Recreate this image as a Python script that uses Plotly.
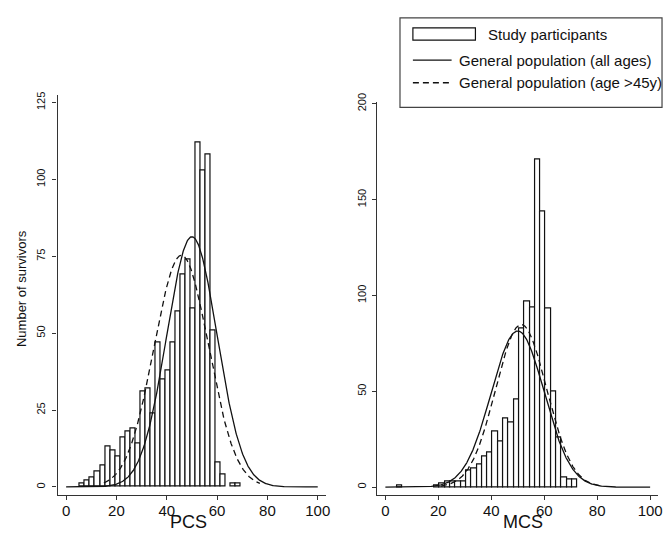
import numpy as np
import plotly.graph_objects as go

# ---------------- data ----------------
BIN_W = 2.0

pcs_bin_mid = [6.5, 8.5, 10.5, 12.5, 14.5, 16.5, 18.5, 20.5, 22.5, 24.5, 26.5,
               28.5, 30.5, 32.5, 34.5, 36.5, 38.5, 40.5, 42.5, 44.5, 46.5, 48.5,
               50.5, 52.5, 54.5, 56.5, 58.5, 60.5, 62.5, 64.5, 66.5, 68.5]
pcs_counts = [1, 2, 3, 5, 7, 13, 12, 10, 16, 18, 19, 14, 31, 32, 24, 47, 35, 38,
              47, 57, 69, 74, 58, 112, 103, 108, 51, 8, 4, 0, 1, 1]

mcs_bin_mid = [5.5, 7.5, 9.5, 11.5, 13.5, 15.5, 17.5, 19.5, 21.5, 23.5, 25.5,
               27.5, 29.5, 31.5, 33.5, 35.5, 37.5, 39.5, 41.5, 43.5, 45.5, 47.5,
               49.5, 51.5, 53.5, 55.5, 57.5, 59.5, 61.5, 63.5, 65.5, 67.5, 69.5, 71.5]
mcs_counts = [1, 0, 0, 0, 0, 0, 0, 1, 2, 3, 3, 3, 3, 9, 10, 12, 16, 18, 29, 24,
              36, 34, 46, 83, 97, 94, 171, 144, 93, 50, 26, 5, 4, 4]

# reference normal curves: (mean, sd, x-range)
pcs_all_ages = (50.0, 10.0, (0, 100))
pcs_age45 = (45.8, 10.8, (15, 77))
mcs_all_ages = (50.0, 10.0, (0, 100))
mcs_age45 = (51.3, 9.6, (21, 81))

x_ticks = [0, 20, 40, 60, 80, 100]
pcs_y_ticks = [0, 25, 50, 75, 100, 125]
mcs_y_ticks = [0, 50, 100, 150, 200]

legend_labels = ["Study participants", "General population (all ages)",
                 "General population (age >45y)"]

# ---------------- figure ----------------
W, H = 670, 533
FONT = "Liberation Sans, Arial, sans-serif"
INK = "#111111"


def pxx(p):
    return p / W


def pxy(p):
    return 1 - p / H


def normal_curve(n, mean, sd, lo, hi):
    xs = np.linspace(lo, hi, 601)
    ys = n * BIN_W / (sd * np.sqrt(2 * np.pi)) * np.exp(-0.5 * ((xs - mean) / sd) ** 2)
    return xs, ys


fig = go.Figure()

panels = [
    (pcs_bin_mid, pcs_counts, pcs_all_ages, pcs_age45, "x", "y"),
    (mcs_bin_mid, mcs_counts, mcs_all_ages, mcs_age45, "x2", "y2"),
]

for mids, counts, solid, dashed, xa, ya in panels:
    keep = [(m, c) for m, c in zip(mids, counts) if c > 0]
    fig.add_trace(go.Bar(
        x=[m for m, _ in keep], y=[c for _, c in keep], width=BIN_W,
        marker=dict(color="white", line=dict(color="#111111", width=1.2)),
        xaxis=xa, yaxis=ya, showlegend=False, hoverinfo="x+y"))
    n = sum(counts)
    xs, ys = normal_curve(n, solid[0], solid[1], *solid[2])
    fig.add_trace(go.Scatter(x=xs, y=ys, mode="lines",
                             line=dict(color="#111111", width=1.3),
                             xaxis=xa, yaxis=ya, showlegend=False))
    xs, ys = normal_curve(n, dashed[0], dashed[1], *dashed[2])
    fig.add_trace(go.Scatter(x=xs, y=ys, mode="lines",
                             line=dict(color="#111111", width=1.3, dash="6px,4px"),
                             xaxis=xa, yaxis=ya, showlegend=False))

axis_common = dict(showline=True, linecolor="#333333", linewidth=1.3,
                   ticks="outside", ticklen=4, tickwidth=1.2, tickcolor="#333333",
                   showgrid=False, zeroline=False, fixedrange=True)

fig.update_layout(
    width=W, height=H,
    margin=dict(l=0, r=0, t=0, b=0),
    paper_bgcolor="white", plot_bgcolor="white",
    bargap=0,
    font=dict(family=FONT, color=INK),
    showlegend=False,
    xaxis=dict(domain=[pxx(58), pxx(328)], range=[-3.4, 103.1], anchor="y",
               tickvals=x_ticks, ticklabelstandoff=-2,
               tickfont=dict(size=15, family=FONT, color=INK), **axis_common),
    yaxis=dict(domain=[pxy(494), pxy(87)], range=[-2.5, 127.6], anchor="x",
               tickvals=pcs_y_ticks, tickangle=-90, ticklabelstandoff=3,
               tickfont=dict(size=11, family=FONT, color=INK), **axis_common),
    xaxis2=dict(domain=[pxx(380), pxx(663.3)], range=[-3.1, 103.1], anchor="y2",
                tickvals=x_ticks, ticklabelstandoff=-2,
                tickfont=dict(size=15, family=FONT, color=INK), **axis_common),
    yaxis2=dict(domain=[pxy(494), pxy(95)], range=[-3.9, 200.7], anchor="x2",
                tickvals=mcs_y_ticks, tickangle=-90, ticklabelstandoff=2,
                tickfont=dict(size=11, family=FONT, color=INK), **axis_common),
)

annotations = [
    dict(text="PCS", x=pxx(190), y=pxy(533), xref="paper", yref="paper",
         showarrow=False, xanchor="center", yanchor="bottom", borderpad=0,
         font=dict(size=18, family=FONT, color=INK)),
    dict(text="MCS", x=pxx(527), y=pxy(533), xref="paper", yref="paper",
         showarrow=False, xanchor="center", yanchor="bottom", borderpad=0,
         font=dict(size=18, family=FONT, color=INK)),
    dict(text="Number of survivors", x=pxx(21), y=pxy(284), xref="paper", yref="paper",
         showarrow=False, xanchor="center", yanchor="middle", textangle=-90,
         font=dict(size=13, family=FONT, color=INK)),
    dict(text=legend_labels[0], x=pxx(490), y=pxy(25.5), xref="paper", yref="paper",
         showarrow=False, xanchor="left", yanchor="middle",
         font=dict(size=15, family=FONT, color=INK)),
    dict(text=legend_labels[1], x=pxx(460), y=pxy(52), xref="paper", yref="paper",
         showarrow=False, xanchor="left", yanchor="middle",
         font=dict(size=15, family=FONT, color=INK)),
    dict(text=legend_labels[2], x=pxx(460), y=pxy(75), xref="paper", yref="paper",
         showarrow=False, xanchor="left", yanchor="middle",
         font=dict(size=15, family=FONT, color=INK)),
]

shapes = [
    # legend frame
    dict(type="rect", xref="paper", yref="paper", x0=pxx(403), x1=pxx(667),
         y0=pxy(100), y1=pxy(9), line=dict(color="#444444", width=1.2),
         fillcolor="rgba(0,0,0,0)"),
    # legend key: bar
    dict(type="rect", xref="paper", yref="paper", x0=pxx(416), x1=pxx(479),
         y0=pxy(31.7), y1=pxy(19.3), line=dict(color="#111111", width=1.2),
         fillcolor="white"),
    # legend key: solid line
    dict(type="line", xref="paper", yref="paper", x0=pxx(416), x1=pxx(455),
         y0=pxy(52), y1=pxy(52), line=dict(color="#111111", width=1.3)),
    # legend key: dashed line
    dict(type="line", xref="paper", yref="paper", x0=pxx(416), x1=pxx(455),
         y0=pxy(75), y1=pxy(75), line=dict(color="#111111", width=1.3, dash="6px,4px")),
]

fig.update_layout(annotations=annotations, shapes=shapes)

fig.write_html("out.html",
               config={"displayModeBar": False, "staticPlot": False},
               post_script="document.body.style.margin='0';"
                           "document.body.style.overflow='hidden';")
